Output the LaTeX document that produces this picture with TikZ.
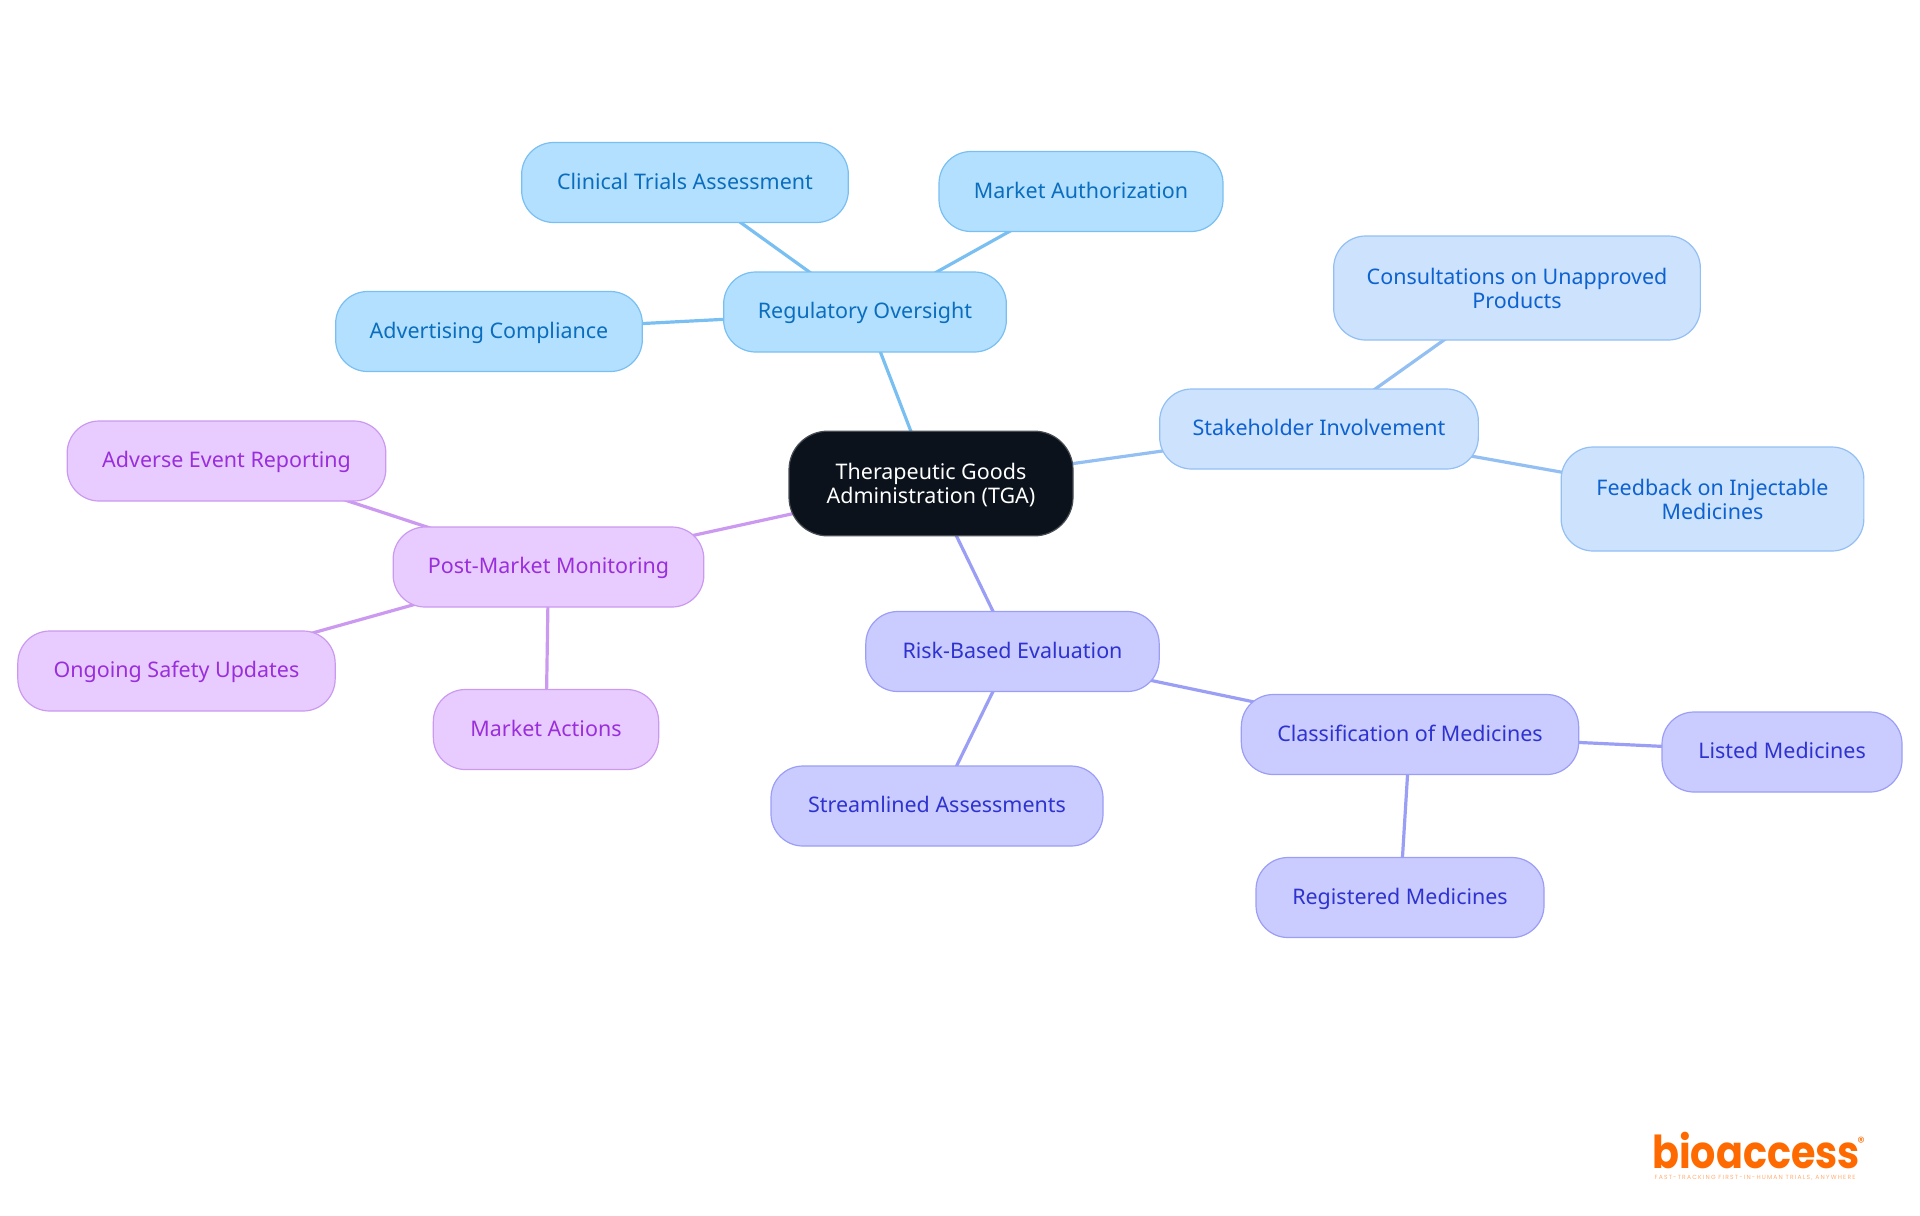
\documentclass[tikz,border=0pt]{standalone}
\usepackage{fontspec}
\setmainfont{Noto Sans}
\newfontfamily\logofont{Poppins}
\newfontfamily\tagfont[LetterSpace=20]{Poppins}
\usetikzlibrary{backgrounds}
\definecolor{bluefill}{HTML}{B3E0FF}\definecolor{blueline}{HTML}{7ABFF1}\definecolor{bluetext}{HTML}{0B6DBD}
\definecolor{skyfill}{HTML}{CCE2FD}\definecolor{skyline}{HTML}{93BFF3}\definecolor{skytext}{HTML}{0E62CF}
\definecolor{indfill}{HTML}{CACBFF}\definecolor{indline}{HTML}{9B9EF5}\definecolor{indtext}{HTML}{2E33CF}
\definecolor{purfill}{HTML}{E8CCFF}\definecolor{purline}{HTML}{CC99F0}\definecolor{purtext}{HTML}{9A2EDB}
\definecolor{rootfill}{HTML}{0B121B}\definecolor{logoorange}{HTML}{FF6A00}
\newcommand{\liftline}[1]{\rule{0pt}{#1pt}}
\tikzset{
  mm/.style={draw,line width=0.9pt,rounded corners=24pt,align=center,font=\fontsize{16.1}{18}\selectfont,inner sep=0pt,
    execute at begin node={\rule{0pt}{13.8pt}},execute at end node={\rule[-4pt]{0pt}{4pt}}},
  rootnode/.style={mm,fill=rootfill,draw=rootfill!75!white,text=white,rounded corners=29pt},
  bluenode/.style={mm,fill=bluefill,draw=blueline,text=bluetext},
  skynode/.style={mm,fill=skyfill,draw=skyline,text=skytext},
  indnode/.style={mm,fill=indfill,draw=indline,text=indtext},
  purnode/.style={mm,fill=purfill,draw=purline,text=purtext},
  bluelink/.style={draw=blueline,line width=2.4pt},
  skylink/.style={draw=skyline,line width=2.4pt},
  indlink/.style={draw=indline,line width=2.4pt},
  purlink/.style={draw=purline,line width=2.4pt},
}
\begin{document}
\begin{tikzpicture}[x=0.75pt,y=-0.75pt]
\useasboundingbox (0,0) rectangle (1920,1215);
\node[rootnode,minimum width=213pt,minimum height=78.5pt] (tga) at (931,483.5) {\liftline{15.5}Therapeutic Goods\\Administration (TGA)};
\node[bluenode,minimum width=212pt,minimum height=60pt] (reg) at (865,312) {Regulatory Oversight};
\node[bluenode,minimum width=245pt,minimum height=60pt] (clin) at (685,182.5) {Clinical Trials Assessment};
\node[bluenode,minimum width=213pt,minimum height=60pt] (auth) at (1081,191.5) {Market Authorization};
\node[bluenode,minimum width=230pt,minimum height=60pt] (adv) at (489,331.5) {Advertising Compliance};
\node[skynode,minimum width=239pt,minimum height=60pt] (stake) at (1319,429) {Stakeholder Involvement};
\node[skynode,minimum width=275pt,minimum height=78pt] (cons) at (1517,288) {\liftline{16}Consultations on Unapproved\\Products};
\node[skynode,minimum width=227pt,minimum height=78pt] (feed) at (1712.5,499) {\liftline{16}Feedback on Injectable\\Medicines};
\node[indnode,minimum width=220pt,minimum height=60pt] (risk) at (1012.5,651.5) {Risk-Based Evaluation};
\node[indnode,minimum width=249pt,minimum height=60pt] (stream) at (937,806) {Streamlined Assessments};
\node[indnode,minimum width=253pt,minimum height=60pt] (class) at (1410,734.5) {Classification of Medicines};
\node[indnode,minimum width=180pt,minimum height=60pt] (listed) at (1782,752) {Listed Medicines};
\node[indnode,minimum width=216pt,minimum height=60pt] (regd) at (1400,897.5) {Registered Medicines};
\node[purnode,minimum width=233pt,minimum height=60pt] (post) at (548.5,567) {Post-Market Monitoring};
\node[purnode,minimum width=239pt,minimum height=60pt] (adverse) at (226.5,461) {Adverse Event Reporting};
\node[purnode,minimum width=238pt,minimum height=60pt] (ongoing) at (176.5,671) {Ongoing Safety Updates};
\node[purnode,minimum width=169pt,minimum height=60pt] (actions) at (546,729.5) {Market Actions};
\begin{scope}[on background layer]
\draw[bluelink] (tga.center) -- (reg.center);
\draw[bluelink] (reg.center) -- (clin.center);
\draw[bluelink] (reg.center) -- (auth.center);
\draw[bluelink] (reg.center) -- (adv.center);
\draw[skylink] (tga.center) -- (stake.center);
\draw[skylink] (stake.center) -- (cons.center);
\draw[skylink] (stake.center) -- (feed.center);
\draw[indlink] (tga.center) -- (risk.center);
\draw[indlink] (risk.center) -- (stream.center);
\draw[indlink] (risk.center) -- (class.center);
\draw[indlink] (class.center) -- (listed.center);
\draw[indlink] (class.center) -- (regd.center);
\draw[purlink] (tga.center) -- (post.center);
\draw[purlink] (post.center) -- (adverse.center);
\draw[purlink] (post.center) -- (ongoing.center);
\draw[purlink] (post.center) -- (actions.center);
\end{scope}
\node[text=logoorange,font=\logofont\bfseries\fontsize{34}{30}\selectfont,inner sep=0pt,xscale=0.875] (logo) at (1756,1151) {bioaccess};
\node[text=logoorange,font=\logofont\fontsize{11}{11}\selectfont,inner sep=0pt] (regmark) at (1861,1142) {®};
\node[text=logoorange!55!white,font=\tagfont\fontsize{4.5}{5}\selectfont,inner sep=0pt] (tagline) at (1755,1178) {FAST-TRACKING FIRST-IN-HUMAN TRIALS, ANYWHERE};
\end{tikzpicture}
\end{document}
